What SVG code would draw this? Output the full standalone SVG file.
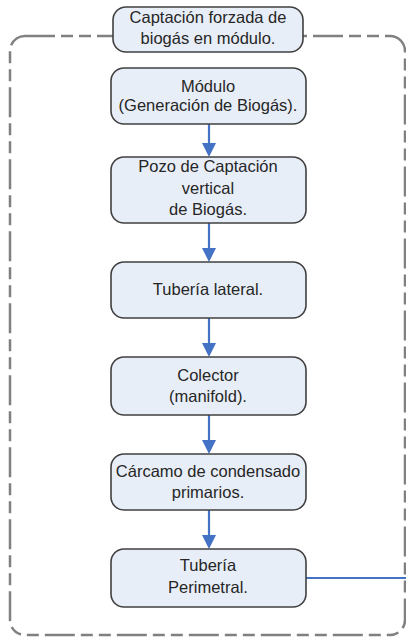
<svg xmlns="http://www.w3.org/2000/svg" width="406" height="638" viewBox="0 0 406 638">
<defs>
<style>
.box{fill:#E8EEF8;stroke:#404040;stroke-width:1.6}
.t{font-family:"Liberation Sans",Arial,sans-serif;font-size:16.5px;fill:#262626;text-anchor:middle}
.c{stroke:#4472C4;stroke-width:2.2;fill:none}
.ah{fill:#4472C4}
.frame{fill:none;stroke:#808080;stroke-width:2.5;stroke-dasharray:30 6 12 6 12 6}
</style>
</defs>
<rect class="frame" x="10" y="36" width="395" height="599" rx="15"/>
<g id="connectors">
<line class="c" x1="209" y1="124" x2="209" y2="143"/>
<polygon class="ah" points="202,143 216,143 209,157"/>
<line class="c" x1="209" y1="223" x2="209" y2="248"/>
<polygon class="ah" points="202,248 216,248 209,262"/>
<line class="c" x1="209" y1="318" x2="209" y2="343"/>
<polygon class="ah" points="202,343 216,343 209,357"/>
<line class="c" x1="209" y1="415" x2="209" y2="440"/>
<polygon class="ah" points="202,440 216,440 209,454"/>
<line class="c" x1="209" y1="510" x2="209" y2="535"/>
<polygon class="ah" points="202,535 216,535 209,549"/>
<line class="c" x1="306" y1="578" x2="406" y2="578"/>
</g>
<g id="title">
<rect class="box" x="113" y="7" width="190" height="45" rx="13"/>
<text class="t" x="208" y="23">Captación forzada de</text>
<text class="t" x="208" y="44">biogás en módulo.</text>
</g>
<g id="modulo">
<rect class="box" x="111" y="68" width="195" height="56" rx="13"/>
<text class="t" x="208" y="92">Módulo</text>
<text class="t" x="208" y="111">(Generación de Biogás).</text>
</g>
<g id="pozo">
<rect class="box" x="111" y="157" width="195" height="66" rx="13"/>
<text class="t" x="208" y="172">Pozo de Captación</text>
<text class="t" x="208" y="194">vertical</text>
<text class="t" x="208" y="215">de Biogás.</text>
</g>
<g id="tuberia-lateral">
<rect class="box" x="111" y="262" width="195" height="56" rx="13"/>
<text class="t" x="208" y="295">Tubería lateral.</text>
</g>
<g id="colector">
<rect class="box" x="111" y="357" width="195" height="58" rx="13"/>
<text class="t" x="208" y="381">Colector</text>
<text class="t" x="208" y="402">(manifold).</text>
</g>
<g id="carcamo">
<rect class="box" x="111" y="454" width="195" height="56" rx="13"/>
<text class="t" x="208" y="477">Cárcamo de condensado</text>
<text class="t" x="208" y="498">primarios.</text>
</g>
<g id="tuberia-perimetral">
<rect class="box" x="111" y="549" width="195" height="58" rx="13"/>
<text class="t" x="208" y="571">Tubería</text>
<text class="t" x="208" y="593">Perimetral.</text>
</g>
</svg>
